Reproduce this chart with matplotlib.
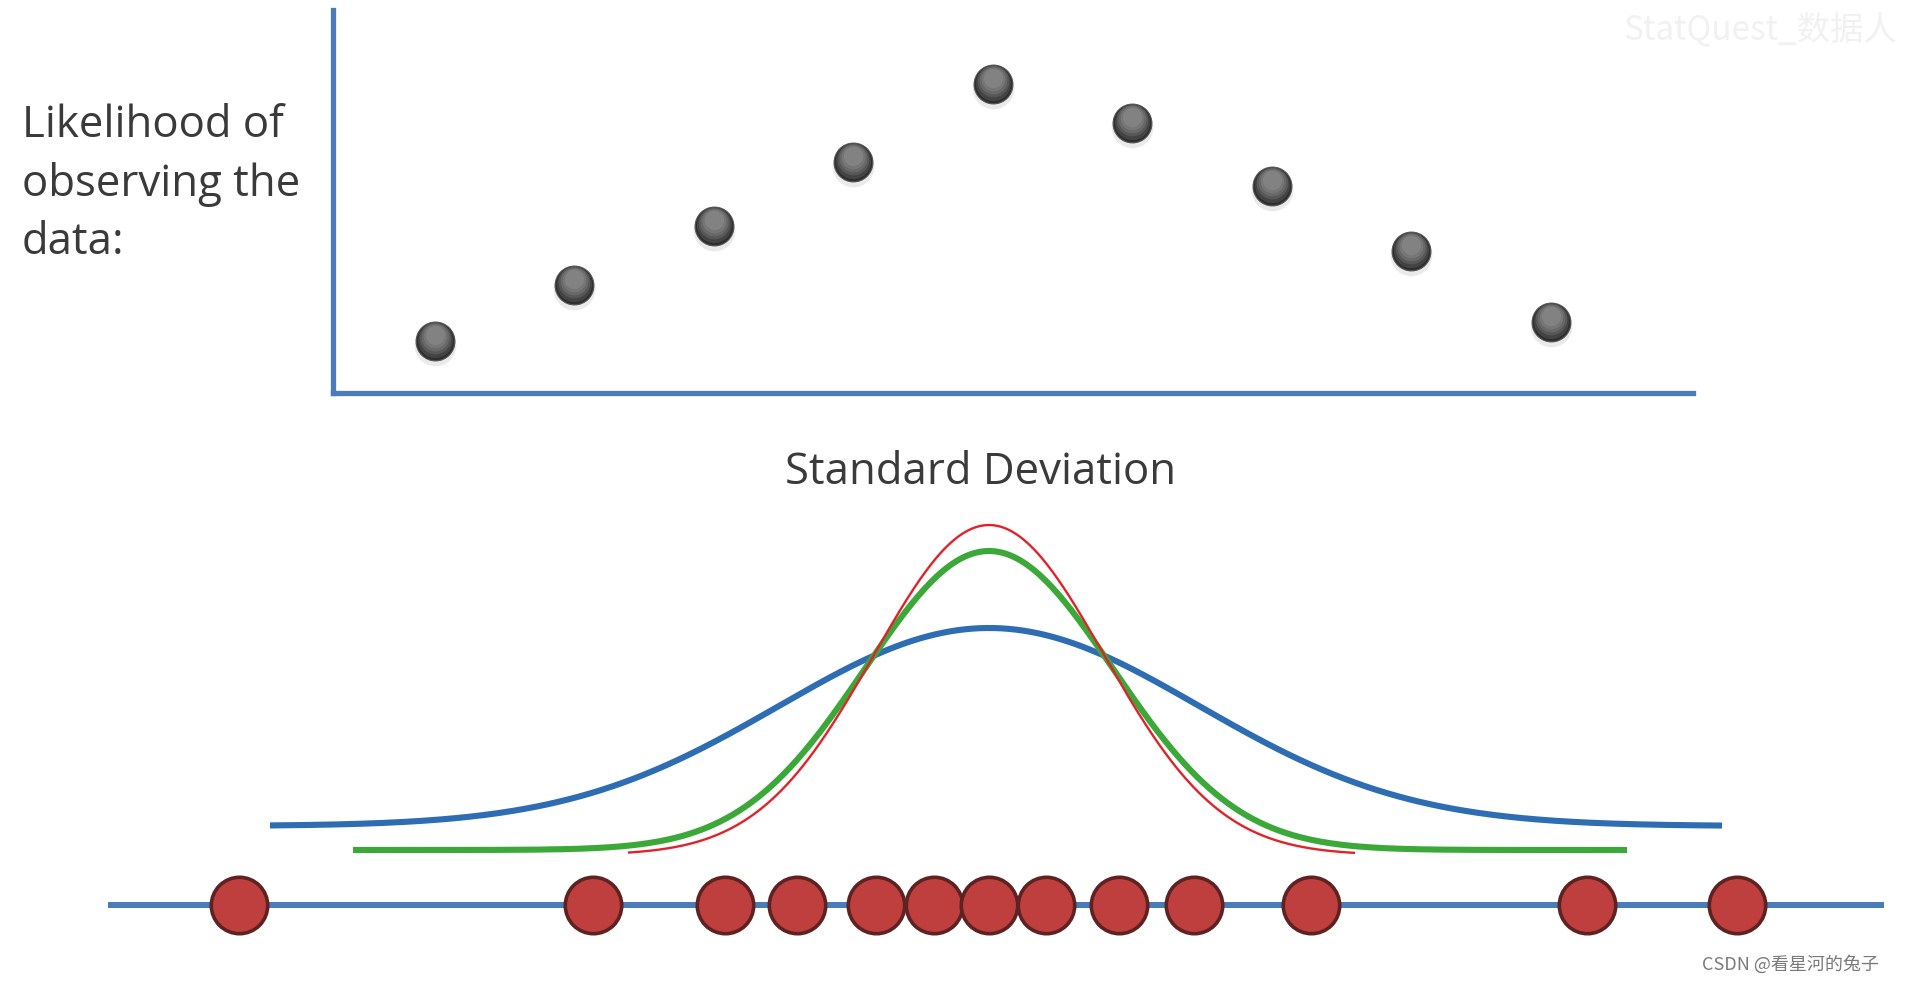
import matplotlib.pyplot as plt
import matplotlib.transforms as mtransforms
import numpy as np

# top panel: likelihood of the data for each candidate standard deviation
sd_values = [1, 2, 3, 4, 5, 6, 7, 8, 9]
likelihood = [0.136, 0.282, 0.436, 0.603, 0.807, 0.705, 0.540, 0.371, 0.185]

# bottom panel: the measurements on the number line
observations = [-7.5, -3.96, -2.64, -1.92, -1.13, -0.55, 0.0, 0.57, 1.3, 2.05, 3.22, 5.98, 7.48]

# three normal curves drawn over the data (mean 0)
curve_sd = [2.1, 1.24, 1.15]
curve_peak = [1.98, 2.99, 3.30]
curve_base = [0.79, 0.55, 0.50]
curve_left = [-7.19, -6.36, -3.61]
curve_right = [7.33, 6.38, 3.66]
curve_colors = ["#2F6DB3", "#3DA83A", "#E0232B"]
curve_widths = [4.4, 4.4, 1.7]

axis_blue = "#4A7BBA"

fig = plt.figure(figsize=(19.07, 9.84), dpi=100)
fig.patch.set_facecolor("white")

# ---- top: likelihood vs standard deviation
ax1 = fig.add_axes([333 / 1907, 1 - 393 / 984, 1360 / 1907, 383 / 984])
ax1.set_xlim(0.27, 10.02)
ax1.set_ylim(0, 1)
for side in ["top", "right"]:
    ax1.spines[side].set_visible(False)
for side in ["left", "bottom"]:
    ax1.spines[side].set_color(axis_blue)
    ax1.spines[side].set_linewidth(3.8)
ax1.set_xticks([])
ax1.set_yticks([])
ax1.patch.set_alpha(0)

# shaded grey balls: soft shadow, dark body, then lighter layers shifted up
shadow = mtransforms.offset_copy(ax1.transData, fig=fig, x=0, y=-3, units="points")
ax1.scatter(sd_values, likelihood, s=900, color="#e2e2e2", alpha=0.7, lw=0,
            transform=shadow, zorder=2)
ax1.scatter(sd_values, likelihood, s=780, color="#2e2e2e", edgecolor="#555555",
            lw=0.8, zorder=3)
layers = [(640, 1.0, "#464646"), (520, 2.0, "#5a5a5a"), (400, 3.0, "#6b6b6b"),
          (290, 3.8, "#787878"), (190, 4.5, "#848484")]
for k, (size, dy, col) in enumerate(layers):
    tr = mtransforms.offset_copy(ax1.transData, fig=fig, x=0, y=dy, units="points")
    ax1.scatter(sd_values, likelihood, s=size, color=col, lw=0, alpha=0.9,
                transform=tr, zorder=4 + k)

fig.text(22 / 1907, 1 - 184 / 984, "Likelihood of\nobserving the\ndata:",
         ha="left", va="center", fontsize=31.5, color="#3a3a3a",
         family="Open Sans", linespacing=1.41)
fig.text(981 / 1907, 1 - 473 / 984, "Standard Deviation", ha="center",
         va="center", fontsize=31.5, color="#3a3a3a", family="Open Sans")

# ---- bottom: number line, data points and normal curves
ax2 = fig.add_axes([0, 0, 1, 0.5])
ax2.set_xlim(-9.89, 9.18)
ax2.set_ylim(-0.79, 4.13)
ax2.axis("off")
ax2.patch.set_alpha(0)

ax2.axhline(0, xmin=111 / 1907, xmax=1881 / 1907, color=axis_blue, lw=4.3, zorder=1)

order = [0, 2, 1]
for i in order:
    xs = np.linspace(curve_left[i], curve_right[i], 400)
    ys = curve_base[i] + curve_peak[i] * np.exp(-0.5 * (xs / curve_sd[i]) ** 2)
    ax2.plot(xs, ys, color=curve_colors[i], lw=curve_widths[i],
             solid_capstyle="butt", zorder=2 + i)

ax2.scatter(observations, np.zeros(len(observations)), s=1650, color="#BF3E3E",
            edgecolor="#5E2222", lw=2.6, zorder=6)

# watermarks
fig.text(1 - 10 / 1907, 1 - 30 / 984, "StatQuest_数据人", ha="right", va="center",
         fontsize=24, color="#f1f1f1", family=["Noto Sans CJK SC", "DejaVu Sans"])
fig.text(1879 / 1907, 1 - 964 / 984, "CSDN @看星河的兔子", ha="right", va="center",
         fontsize=13, color="#7a7a7a", family=["Noto Sans CJK SC", "DejaVu Sans"])

fig.savefig("out.png", dpi=100, facecolor="white")
